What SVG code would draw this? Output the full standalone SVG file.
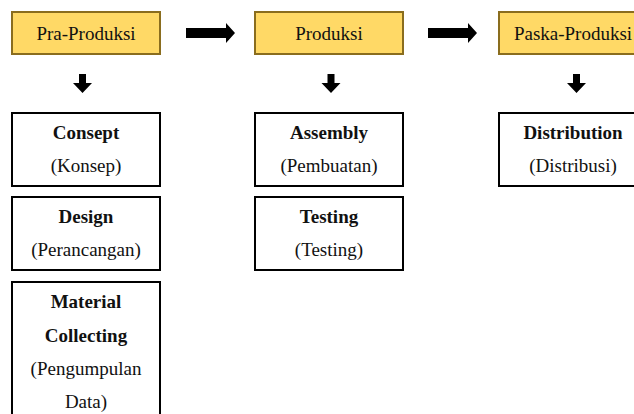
<svg xmlns="http://www.w3.org/2000/svg" width="634" height="414" viewBox="0 0 634 414">
<style>
.hdr{fill:#FFD966;stroke:#8A6D1E;stroke-width:2}
.box{fill:#FFFFFF;stroke:#000000;stroke-width:2}
text{font-family:"Liberation Serif","Times New Roman",serif;font-size:19px;fill:#111;text-anchor:middle}
.b{font-weight:bold}
.arr{fill:#000}
</style>
<rect width="634" height="414" fill="#FFFFFF"/>
<g id="pra-produksi"><rect class="hdr" x="12" y="12" width="148" height="42"/><text x="86" y="40">Pra-Produksi</text></g>
<g id="produksi"><rect class="hdr" x="255" y="12" width="148" height="42"/><text x="329" y="40">Produksi</text></g>
<g id="paska-produksi"><rect class="hdr" x="499" y="12" width="148" height="42"/><text x="573" y="40">Paska-Produksi</text></g>
<g id="consept"><rect class="box" x="12" y="113" width="148" height="73"/><text class="b" x="86" y="139">Consept</text><text x="86" y="172">(Konsep)</text></g>
<g id="design"><rect class="box" x="12" y="197" width="148" height="73"/><text class="b" x="86" y="223">Design</text><text x="86" y="256">(Perancangan)</text></g>
<g id="material"><rect class="box" x="12" y="282" width="148" height="140"/><text class="b" x="86" y="308">Material</text><text class="b" x="86" y="342">Collecting</text><text x="86" y="375">(Pengumpulan</text><text x="86" y="408">Data)</text></g>
<g id="assembly"><rect class="box" x="255" y="113" width="148" height="73"/><text class="b" x="329" y="139">Assembly</text><text x="329" y="172">(Pembuatan)</text></g>
<g id="testing"><rect class="box" x="255" y="197" width="148" height="73"/><text class="b" x="329" y="223">Testing</text><text x="329" y="256">(Testing)</text></g>
<g id="distribution"><rect class="box" x="499" y="113" width="148" height="73"/><text class="b" x="573" y="139">Distribution</text><text x="573" y="172">(Distribusi)</text></g>
<g id="connectors">
<path class="arr" d="M186,28 H226 V23 L235,33 L226,43 V38 H186 Z"/>
<path class="arr" d="M428,28 H468 V23 L477,33 L468,43 V38 H428 Z"/>
<path class="arr" d="M79,74 H86 V83 H92 L82.5,93 L73,83 H79 Z"/>
<path class="arr" d="M327.5,74 H334.5 V83 H340.5 L331,93 L321.5,83 H327.5 Z"/>
<path class="arr" d="M573,74 H580 V83 H586 L576.5,93 L567,83 H573 Z"/>
</g>
</svg>
